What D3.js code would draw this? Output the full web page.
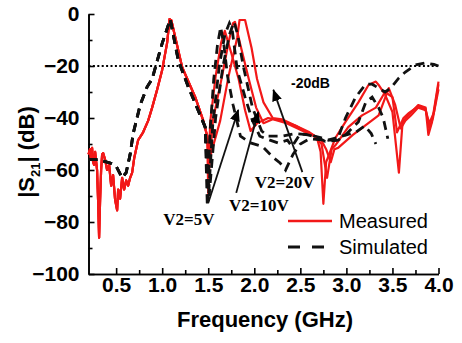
<!DOCTYPE html>
<html lang="en">
<head>
    <meta charset="utf-8">
    <style>
        html, body {
            margin: 0;
            padding: 0;
            background: #fff;
        }
        svg {
            display: block;
            font-family: "Liberation Sans", Arial, sans-serif;
        }
        .axis path, .axis line {
            stroke: #000;
            stroke-width: 1.6;
        }
        .axis text {
            font-size: 21px;
            font-weight: bold;
            fill: #000;
        }
    </style>
</head>
<body>

<script src="https://cdn.jsdelivr.net/npm/d3@7"></script>
<script>
// tick values
var yMajor = [0, -20, -40, -60, -80, -100];
var yMinor = [-10, -30, -50, -70, -90];
var xMajor = [0.5, 1.0, 1.5, 2.0, 2.5, 3.0, 3.5, 4.0];
var xMinor = [0.75, 1.25, 1.75, 2.25, 2.75, 3.25, 3.75];

// measured |S21| (dB) vs frequency (GHz), low band shared by all three bias states
var measuredLow = [[0.2,-54],[0.217,-52],[0.228,-56],[0.239,-51.5],[0.25,-57],[0.261,-58],[0.272,-53],
    [0.293,-60],[0.304,-71.5],[0.315,-86],[0.326,-71.5],[0.337,-60],[0.348,-54],[0.359,-53.5],[0.38,-56],
    [0.402,-60],[0.424,-58],[0.446,-66],[0.467,-62],[0.489,-71.5],[0.511,-75.5],[0.522,-67.5],[0.543,-71],
    [0.565,-63],[0.587,-67.5],[0.609,-64],[0.63,-66],[0.652,-63],[0.674,-61],[0.696,-55.5],[0.739,-48.5],
    [0.793,-45.5],[0.848,-41],[0.891,-36],[0.946,-29],[1.0,-21.5],[1.054,-11],[1.08,-2],[1.1,-2.5],
    [1.217,-20.5],[1.359,-32],[1.446,-41],[1.489,-47]];
var measured5 = [[1.5,-69],[1.52,-42],[1.58,-24],[1.64,-11],[1.68,-6.5],[1.75,-15],[1.83,-25],[1.9,-37],
    [1.96,-45],[2.03,-42],[2.15,-40],[2.3,-41],[2.45,-43],[2.6,-45.5],[2.68,-47.5],[2.72,-53],[2.75,-73],
    [2.78,-57],[2.88,-47.7],[2.99,-41.5],[3.13,-34],[3.24,-27.3],[3.32,-26],[3.35,-27.3],[3.42,-31],
    [3.5,-37.7],[3.57,-61],[3.61,-41.5],[3.67,-39],[3.78,-35],[3.86,-36],[3.89,-46.5],[3.93,-41.5],[4.0,-26]];
var measured10 = [[1.51,-60],[1.55,-41],[1.65,-24],[1.72,-11],[1.77,-3.5],[1.79,-3],[1.85,-12],[1.94,-25],
    [2.02,-36],[2.1,-42],[2.2,-40.5],[2.35,-42],[2.5,-44.5],[2.65,-47],[2.73,-50],[2.79,-63],[2.84,-52],
    [2.88,-50.5],[3.02,-43.5],[3.17,-39],[3.32,-36],[3.42,-30],[3.5,-32],[3.55,-45.5],[3.62,-40],
    [3.68,-38],[3.78,-35.5],[3.86,-36.5],[3.9,-44],[3.94,-40],[4.0,-27]];
var measured20 = [[1.52,-55],[1.63,-41],[1.72,-24],[1.815,-9],[1.84,-2.3],[1.9,-2.3],[1.97,-13],[2.03,-25],
    [2.1,-34],[2.2,-40],[2.3,-40.5],[2.45,-43],[2.6,-46],[2.72,-48],[2.78,-52],[2.83,-57],[2.87,-52],
    [2.91,-51.5],[3.07,-46.5],[3.21,-42.7],[3.35,-39],[3.46,-28.5],[3.53,-35],[3.59,-44],[3.64,-41],
    [3.7,-39],[3.78,-36],[3.86,-37],[3.9,-42],[3.95,-38],[4.0,-29]];

// simulated
var simulatedLow = [[0.2,-56],[0.3,-56],[0.435,-57.3],[0.5,-58.5],[0.565,-63],[0.609,-61],[0.652,-54],
    [0.685,-46],[0.761,-35],[0.837,-28],[0.891,-25],[0.946,-18],[1.0,-11.3],[1.05,-6],[1.087,-2],
    [1.174,-17.7],[1.283,-28],[1.39,-37],[1.467,-43.5]];
var simulated5 = [[1.49,-74],[1.52,-45],[1.56,-25],[1.6,-12],[1.635,-5],[1.67,-12],[1.71,-24],[1.77,-35],
    [1.85,-47],[1.96,-49.6],[2.09,-51],[2.2,-55],[2.28,-57.3],[2.34,-60],[2.42,-54],[2.5,-50],[2.6,-48],
    [2.75,-48.5],[2.9,-48.5],[2.99,-40],[3.1,-32],[3.21,-27],[3.28,-27],[3.42,-30],[3.48,-28.5],
    [3.57,-24.6],[3.64,-22.3],[3.75,-19.6],[3.86,-18.8],[3.95,-19.4],[4.0,-20]];
var simulated10 = [[1.5,-72],[1.55,-42],[1.62,-20],[1.68,-8],[1.73,-3.5],[1.76,-6],[1.815,-21.5],[1.9,-32],
    [1.98,-41],[2.06,-47],[2.17,-48.5],[2.26,-49.6],[2.36,-48.5],[2.41,-51],[2.5,-46],[2.58,-46.5],
    [2.68,-47.3],[2.77,-49],[2.91,-48.5],[2.99,-46.5],[3.13,-41.5],[3.21,-34],[3.28,-32],[3.35,-36],
    [3.4,-40],[3.45,-48]];
var simulated20 = [[1.51,-70],[1.58,-40],[1.66,-20],[1.73,-8],[1.78,-3],[1.82,-8],[1.88,-20],[1.98,-36],
    [2.08,-45],[2.15,-47],[2.3,-47],[2.45,-46],[2.6,-46.5],[2.72,-47.5],[2.8,-48.5],[2.95,-47],
    [3.1,-45.5],[3.2,-43],[3.27,-46],[3.32,-50]];

// bias annotations
var voltLabels = ['V2=5V', 'V2=10V', 'V2=20V'];
var labelAt = [[1.29,-79],[2.05,-73.5],[2.33,-64.6]];
var arrowFrom = [[1.50,-72.7],[1.804,-68.8],[2.522,-60.8]];
var arrowTo = [[1.826,-36.9],[2.043,-37.7],[2.207,-29.2]];
var refLevel = -20;

(function() {
    var width = 462, height = 343;
    var svg = d3.select('body').append('svg')
        .attr('width', width)
        .attr('height', height);

    var x = d3.scaleLinear().domain([0.2, 4.0]).range([88.5, 438.5]);
    var y = d3.scaleLinear().domain([-100, 0]).range([274, 14]);

    svg.append('defs').append('marker')
        .attr('id', 'head')
        .attr('markerUnits', 'userSpaceOnUse')
        .attr('viewBox', '0 0 12 10')
        .attr('refX', 11).attr('refY', 5)
        .attr('markerWidth', 12).attr('markerHeight', 10)
        .attr('orient', 'auto')
        .append('path').attr('d', 'M0,0 L12,5 L0,10 z').attr('fill', '#000');

    // axes: minor ticks first, then labelled major ticks
    svg.append('g').attr('class', 'axis').attr('transform', 'translate(88.5,0)')
        .call(d3.axisLeft(y).tickValues(yMinor).tickSizeInner(-4).tickSizeOuter(0).tickFormat(''));
    svg.append('g').attr('class', 'axis').attr('transform', 'translate(88.5,0)')
        .call(d3.axisLeft(y).tickValues(yMajor).tickSizeInner(-6).tickSizeOuter(0).tickPadding(9)
            .tickFormat(d3.format('d')));
    svg.append('g').attr('class', 'axis').attr('transform', 'translate(0,274)')
        .call(d3.axisBottom(x).tickValues(xMinor).tickSizeInner(-4).tickSizeOuter(0).tickFormat(''));
    svg.append('g').attr('class', 'axis').attr('transform', 'translate(0,274)')
        .call(d3.axisBottom(x).tickValues(xMajor).tickSizeInner(-6).tickSizeOuter(0).tickPadding(3)
            .tickFormat(d3.format('.1f')));
    svg.selectAll('.axis text').style('font-family', '"Liberation Sans", Arial, sans-serif');

    // axis titles
    svg.append('text')
        .attr('x', 265).attr('y', 327)
        .attr('text-anchor', 'middle')
        .style('font-size', '22px').style('font-weight', 'bold')
        .text('Frequency (GHz)');
    var yt = svg.append('text')
        .attr('transform', 'translate(34,152) rotate(-90)')
        .attr('text-anchor', 'middle')
        .style('font-size', '22px').style('font-weight', 'bold');
    yt.append('tspan').text('|S');
    yt.append('tspan').attr('dy', 6).style('font-size', '13px').text('21');
    yt.append('tspan').attr('dy', -6).text('| (dB)');

    // -20 dB reference
    svg.append('line')
        .attr('x1', x(0.2)).attr('x2', x(4.0))
        .attr('y1', y(refLevel)).attr('y2', y(refLevel))
        .attr('stroke', '#000').attr('stroke-width', 2.2)
        .attr('stroke-dasharray', '2,2.4');
    svg.append('text')
        .attr('x', 291).attr('y', 88)
        .style('font-size', '14px').style('font-weight', 'bold')
        .text('-20dB');

    var line = d3.line()
        .x(function (d) { return x(d[0]); })
        .y(function (d) { return y(d[1]); });

    var measured = [measuredLow.concat(measured5), measuredLow.concat(measured10), measuredLow.concat(measured20)];
    var simulated = [simulatedLow.concat(simulated5), simulatedLow.concat(simulated10), simulatedLow.concat(simulated20)];

    svg.selectAll('path.meas')
        .data(measured)
        .enter().append('path')
        .attr('class', 'meas')
        .attr('d', line)
        .attr('fill', 'none')
        .attr('stroke', '#f21818')
        .attr('stroke-width', 2.2)
        .attr('stroke-linejoin', 'round');

    svg.selectAll('path.sim')
        .data(simulated)
        .enter().append('path')
        .attr('class', 'sim')
        .attr('d', line)
        .attr('fill', 'none')
        .attr('stroke', '#111')
        .attr('stroke-width', 2.8)
        .attr('stroke-dasharray', '9,6');

    // arrows and labels
    svg.selectAll('line.arrow')
        .data(arrowFrom)
        .enter().append('line')
        .attr('class', 'arrow')
        .attr('x1', function (d) { return x(d[0]); })
        .attr('y1', function (d) { return y(d[1]); })
        .attr('x2', function (d, i) { return x(arrowTo[i][0]); })
        .attr('y2', function (d, i) { return y(arrowTo[i][1]); })
        .attr('stroke', '#111')
        .attr('stroke-width', 1.8)
        .attr('marker-end', 'url(#head)');

    svg.selectAll('text.volt')
        .data(voltLabels)
        .enter().append('text')
        .attr('class', 'volt')
        .attr('x', function (d, i) { return x(labelAt[i][0]); })
        .attr('y', function (d, i) { return y(labelAt[i][1]); })
        .attr('dy', '0.35em')
        .attr('text-anchor', 'middle')
        .style('font-family', '"Liberation Serif", "Times New Roman", serif')
        .style('font-size', '17px').style('font-weight', 'bold')
        .text(function (d) { return d; });

    // legend
    var lg = svg.append('g').attr('transform', 'translate(288,0)');
    lg.append('line').attr('x1', 0).attr('x2', 44).attr('y1', 221).attr('y2', 221)
        .attr('stroke', '#f21818').attr('stroke-width', 2.4);
    lg.append('line').attr('x1', 0).attr('x2', 44).attr('y1', 247).attr('y2', 247)
        .attr('stroke', '#111').attr('stroke-width', 2.8).attr('stroke-dasharray', '12,12');
    lg.append('text').attr('x', 51).attr('y', 221).attr('dy', '0.35em')
        .style('font-size', '20px').text('Measured');
    lg.append('text').attr('x', 51).attr('y', 247).attr('dy', '0.35em')
        .style('font-size', '20px').text('Simulated');
})();
</script>

</body>
</html>
